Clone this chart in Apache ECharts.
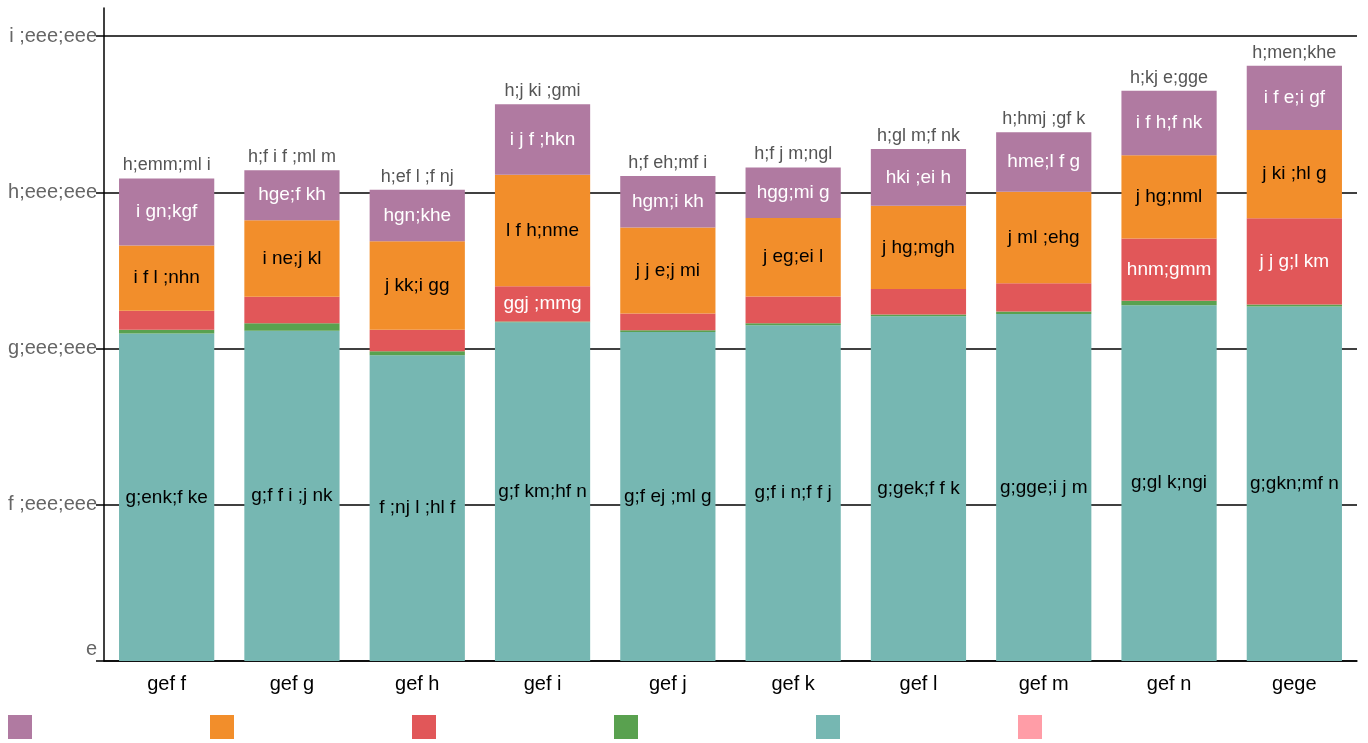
<!DOCTYPE html>
<html>
<head>
<meta charset="utf-8">
<script src="https://cdn.jsdelivr.net/npm/echarts@6/dist/echarts.min.js"></script>
<style>
html,body{margin:0;padding:0;background:#fff;}
#chart{width:1368px;height:743px;}
</style>
</head>
<body>
<div id="chart"></div>
<script>
// Data (values as numbers; displayed with the reference's glyphs)
const years = [2011, 2012, 2013, 2014, 2015, 2016, 2017, 2018, 2019, 2020];
const tealValues   = [2096160, 2114596, 1957371, 2168319, 2105872, 2149115, 2206116, 2220458, 2276924, 2269819];
const greenValues  = [24000, 48000, 25000, 4734, 11000, 13000, 12000, 17000, 28825, 12250];
const redValues    = [121154, 168552, 138772, 225882, 107895, 171923, 163214, 180014, 398288, 552768];
const orangeValues = [417939, 490567, 566422, 713980, 550584, 502047, 532823, 587032, 532987, 564372];
const purpleValues = [429621, 320163, 329630, 451369, 328463, 322842, 364043, 380712, 413196, 410421];
const pinkValues   = [];
const totalValues  = [3088874, 3141878, 3017195, 3564284, 3103814, 3158927, 3278196, 3385216, 3650220, 3809630];
const yTicks = [0, 1000000, 2000000, 3000000, 4000000];
const seriesNames = ['A', 'B', 'C', 'D', 'E', 'F'];

// Digits are shown in the reference with these glyphs
const glyph = {'0':'e','1':'f ','2':'g','3':'h','4':'i ','5':'j ','6':'k','7':'l ','8':'m','9':'n',',':';'};
function toGlyphs(n) {
  const s = Number(n).toLocaleString('en-US');
  return s.split('').map(c => glyph[c] !== undefined ? glyph[c] : c).join('');
}

const FONT = '"Liberation Sans", Arial, sans-serif';
const colors = {purple:'#b07aa1', orange:'#f28e2b', red:'#e15759', green:'#59a14f', teal:'#76b7b2', pink:'#ff9da7'};

function inLabel(color, minShow) {
  return {
    show: true, position: 'inside', color: color, fontSize: 19, fontFamily: FONT,
    formatter: p => (p.value >= minShow ? toGlyphs(p.value).trim() : '')
  };
}

const chart = echarts.init(document.getElementById('chart'), null, {renderer: 'canvas'});
const option = {
  animation: false,
  backgroundColor: '#ffffff',
  grid: {left: 104, right: 11, top: 8, bottom: 82, containLabel: false},
  legend: {
    data: seriesNames,
    left: 3, top: 710, itemWidth: 24, itemHeight: 24, itemGap: 178,
    icon: 'rect', formatter: () => '', textStyle: {fontSize: 12}
  },
  xAxis: {
    type: 'category',
    data: years,
    axisLine: {lineStyle: {color: '#000', width: 1.5}},
    axisTick: {show: false},
    axisLabel: {color: '#000', fontSize: 20, fontFamily: FONT, margin: 13, formatter: v => toGlyphs(Number(v)).replace(/;/g,'').trim()}
  },
  yAxis: {
    type: 'value', min: 0, max: 4180000, interval: 1000000,
    axisLine: {show: true, lineStyle: {color: '#000', width: 1.5}},
    axisTick: {show: true, length: 8, lineStyle: {color: '#000', width: 1.5}, customValues: yTicks},
    axisLabel: {color: '#666', fontSize: 20, fontFamily: FONT, margin: 7, customValues: yTicks,
      formatter: v => (v === 0 ? '{z|' + toGlyphs(v).trim() + '}' : toGlyphs(v).trim()),
      rich: {z: {color: '#666', fontSize: 20, fontFamily: FONT, padding: [0, 0, 24, 0]}}},
    splitLine: {show: true, lineStyle: {color: '#000', width: 1.5}}
  },
  series: [
    {name: 'E', type: 'bar', stack: 's', barWidth: '76%', data: tealValues, itemStyle: {color: colors.teal}, label: inLabel('#000', 200000)},
    {name: 'D', type: 'bar', stack: 's', data: greenValues, itemStyle: {color: colors.green}},
    {name: 'C', type: 'bar', stack: 's', data: redValues, itemStyle: {color: colors.red}, label: inLabel('#fff', 200000)},
    {name: 'B', type: 'bar', stack: 's', data: orangeValues, itemStyle: {color: colors.orange}, label: inLabel('#000', 200000)},
    {name: 'A', type: 'bar', stack: 's', data: purpleValues, itemStyle: {color: colors.purple}, label: inLabel('#fff', 200000)},
    {name: 'F', type: 'bar', stack: 's', data: pinkValues, itemStyle: {color: colors.pink}},
    {name: 'total', type: 'bar', stack: 's', data: totalValues.map(() => 0), itemStyle: {color: 'transparent'},
      label: {show: true, position: 'top', distance: 4, color: '#555', fontSize: 18, fontFamily: FONT,
        formatter: p => toGlyphs(totalValues[p.dataIndex]).trim()}}
  ]
};
chart.setOption(option);
</script>
</body>
</html>
